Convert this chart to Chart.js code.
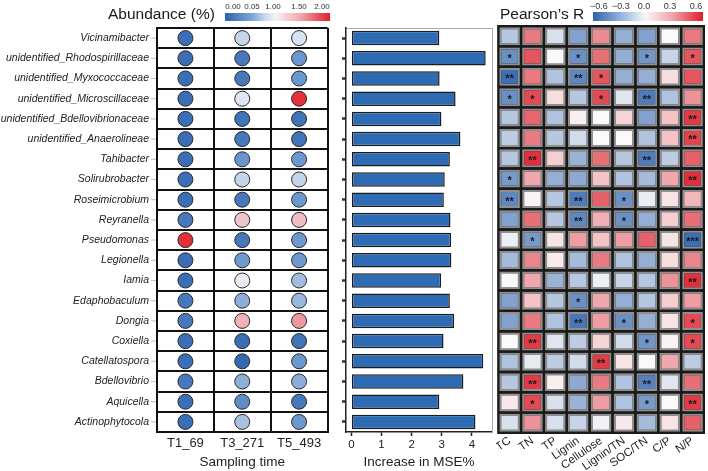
<!DOCTYPE html>
<html><head><meta charset="utf-8">
<script src="https://cdn.jsdelivr.net/npm/chart.js@4.4.1/dist/chart.umd.min.js"></script>
<style>
body{margin:0;width:708px;height:471px;background:#fff;overflow:hidden;font-family:"Liberation Sans",Arial,sans-serif;position:relative}
canvas{position:absolute;top:0}
.t{position:absolute;white-space:nowrap;color:#1a1a1a;line-height:1}
.cb{position:absolute}
.lb{position:absolute;font-size:8px;transform:translateX(-50%);color:#333;line-height:1}
</style></head><body>
<canvas id="c1" width="336" height="471" style="left:0"></canvas>
<canvas id="c2" width="160" height="471" style="left:336px"></canvas>
<canvas id="c3" width="212" height="471" style="left:496px"></canvas>
<div class="t" style="left:108px;top:6px;font-size:15.5px">Abundance (%)</div>
<div class="cb" style="left:225px;top:13px;width:105px;height:8px;background:linear-gradient(to right,#2d62ad 0%,#4f83c2 12%,#7fa6d6 26%,#c9d8ee 38%,#f4f4f8 48%,#f6d2d5 58%,#f1a7ae 72%,#e8606a 86%,#e0202c 100%)"></div>
<div class="lb" style="left:233px;top:3px">0.00</div>
<div class="lb" style="left:252px;top:3px">0.05</div>
<div class="lb" style="left:273px;top:3px">1.00</div>
<div class="lb" style="left:299px;top:3px">1.50</div>
<div class="lb" style="left:322px;top:3px">2.00</div>
<div class="t" style="left:500px;top:6px;font-size:15.5px">Pearson’s R</div>
<div class="cb" style="left:593px;top:12px;width:110px;height:9px;background:linear-gradient(to right,#2d62ad 0%,#9bb8de 27%,#f7f7f7 48%,#f2a4ab 72%,#dd1e2b 100%)"></div>
<div class="lb" style="left:599px;top:2px;font-size:9px">−0.6</div>
<div class="lb" style="left:621px;top:2px;font-size:9px">−0.3</div>
<div class="lb" style="left:644px;top:2px;font-size:9px">0.0</div>
<div class="lb" style="left:670px;top:2px;font-size:9px">0.3</div>
<div class="lb" style="left:696px;top:2px;font-size:9px">0.6</div>
<script>
const taxa = ['Vicinamibacter','unidentified_Rhodospirillaceae','unidentified_Myxococcaceae','unidentified_Microscillaceae','unidentified_Bdellovibrionaceae','unidentified_Anaerolineae','Tahibacter','Solirubrobacter','Roseimicrobium','Reyranella','Pseudomonas','Legionella','Iamia','Edaphobaculum','Dongia','Coxiella','Catellatospora','Bdellovibrio','Aquicella','Actinophytocola'];
const times = ['T1_69','T3_271','T5_493'];
const abT1 = [0.01,0.01,0.01,0.01,0.01,0.01,0.01,0.01,0.01,0.02,1.95,0.01,0.01,0.02,0.02,0.01,0.01,0.02,0.01,0.01];
const abT3 = [0.72,0.02,0.02,0.9,0.015,0.02,0.05,0.7,0.02,1.28,0.02,0.1,1.05,0.3,1.42,0.01,0.005,0.3,0.04,0.5];
const abT5 = [0.85,0.06,0.06,1.95,0.015,0.015,0.07,0.7,0.07,1.35,0.07,0.08,0.45,0.4,1.55,0.015,0.06,0.3,0.02,0.07];
const mse = [2.92,4.46,2.93,3.46,2.99,3.62,3.27,3.10,3.07,3.29,3.31,3.32,2.98,3.27,3.41,3.06,4.38,3.72,2.92,4.12];
const envVars = ['TC','TN','TP','Lignin','Cellulose','Lignin/TN','SOC/TN','C/P','N/P'];
const rTC = [-0.2,-0.42,-0.55,-0.42,-0.2,-0.18,-0.2,-0.38,-0.45,-0.35,-0.04,-0.25,0.0,-0.35,-0.35,0.0,-0.22,-0.2,0.05,-0.1];
const rTN = [0.35,0.45,0.35,0.48,0.4,0.35,0.55,0.22,0.02,0.38,-0.38,0.32,0.22,0.15,0.35,0.52,-0.06,0.52,0.48,0.28];
const rTP = [-0.1,0.0,-0.22,0.08,-0.22,-0.2,0.12,-0.3,-0.2,-0.2,0.06,0.04,-0.28,-0.2,-0.22,-0.08,-0.18,0.03,-0.1,-0.1];
const rLignin = [-0.35,-0.42,-0.45,-0.2,0.03,-0.12,-0.28,-0.32,-0.5,-0.45,0.25,-0.25,-0.2,-0.42,-0.52,-0.18,-0.12,-0.32,-0.28,-0.15];
const rCellulose = [0.3,0.38,0.45,0.48,0.0,0.0,0.38,0.15,0.42,0.2,0.15,0.35,-0.04,0.22,0.25,0.1,0.52,0.35,0.25,-0.03];
const rLigninTN = [-0.3,-0.3,-0.3,-0.08,0.1,0.0,-0.2,-0.22,-0.42,-0.42,0.25,-0.22,-0.15,-0.3,-0.42,-0.12,0.06,-0.22,-0.22,0.05];
const rSOCTN = [-0.35,-0.4,-0.3,-0.5,-0.35,-0.22,-0.5,-0.25,-0.05,-0.3,0.42,-0.3,-0.2,-0.2,-0.3,-0.4,0.0,-0.48,-0.38,-0.25];
const rCP = [0.0,-0.15,0.08,-0.22,0.15,0.15,-0.18,0.22,0.06,0.12,0.06,0.08,0.28,0.12,0.06,0.02,0.22,-0.08,0.0,0.06];
const rNP = [0.35,0.45,0.45,0.28,0.52,0.5,0.42,0.55,0.18,0.38,-0.55,0.32,0.55,0.25,0.48,0.48,-0.18,0.38,0.52,0.42];
const sTC = ['','*','**','*','','','','*','**','','','','','','','','','','',''];
const sTN = ['','','','*','','','**','','','','*','','','','','**','','**','*',''];
const sTP = ['','','','','','','','','','','','','','','','','','','',''];
const sLignin = ['','*','**','','','','','','**','**','','','','*','**','','','','',''];
const sCellulose = ['','','*','*','','','','','','','','','','','','','**','','',''];
const sLigninTN = ['','','','','','','','','*','*','','','','','*','','','','',''];
const sSOCTN = ['','*','','**','','','**','','','','','','','','','*','','**','*',''];
const sCP = ['','','','','','','','','','','','','','','','','','','',''];
const sNP = ['','*','','','**','**','','**','','','***','','**','','*','*','','','**',''];

const abund = [abT1, abT3, abT5];
const rCols = [rTC, rTN, rTP, rLignin, rCellulose, rLigninTN, rSOCTN, rCP, rNP];
const sCols = [sTC, sTN, sTP, sLignin, sCellulose, sLigninTN, sSOCTN, sCP, sNP];

function mix(a, b, t) { return 'rgb(' + a.map((v, i) => Math.round(v + (b[i] - v) * t)).join(',') + ')'; }
const BLUE = [45, 98, 173], WHITE = [250, 250, 250], RED = [220, 30, 42];
function rColor(v) { const t = Math.max(-1, Math.min(1, v / 0.6)); return t < 0 ? mix(WHITE, BLUE, -t) : mix(WHITE, RED, t); }
const abStops = [0, 0.05, 1.0, 1.5, 2.0];
const abColors = [[47,100,175],[105,150,205],[238,240,248],[242,165,172],[225,35,45]];
function abColor(v) {
  for (let i = 0; i < abStops.length - 1; i++) {
    if (v <= abStops[i + 1]) return mix(abColors[i], abColors[i + 1], (v - abStops[i]) / (abStops[i + 1] - abStops[i]));
  }
  return mix(abColors[3], abColors[4], 1);
}
Chart.defaults.font.family = '"Liberation Sans", Arial, sans-serif';
Chart.defaults.color = '#222';
Chart.defaults.animation = false;

// Panel 1: bubble grid
const bubbleData = [], bubbleCols = [];
times.forEach((tm, j) => taxa.forEach((tx, i) => { bubbleData.push({x: tm, y: tx}); bubbleCols.push(abColor(abund[j][i])); }));
const labelTicks = {
  id: 'labelTicks',
  afterDraw(chart) {
    const ys = chart.scales.y, ctx = chart.ctx;
    ctx.save(); ctx.strokeStyle = '#c8c8c8'; ctx.lineWidth = 1.2;
    taxa.forEach((t, i) => { const y = ys.getPixelForValue(i); ctx.beginPath(); ctx.moveTo(ys.right - 6, y); ctx.lineTo(ys.right - 1, y); ctx.stroke(); });
    ctx.restore();
  }
};
new Chart(document.getElementById('c1'), {
  type: 'scatter',
  data: { datasets: [{ data: bubbleData, pointRadius: 7.5, pointHoverRadius: 7.5, pointBackgroundColor: bubbleCols, pointBorderColor: '#2a2a2a', pointBorderWidth: 1 }] },
  options: {
    responsive: false, devicePixelRatio: 1,
    layout: { padding: { top: 28, right: 3, left: 0, bottom: 0 } },
    plugins: { legend: { display: false }, tooltip: { enabled: false } },
    scales: {
      x: { type: 'category', labels: times, offset: true,
           grid: { offset: true, color: '#111', lineWidth: 2, drawTicks: false },
           border: { color: '#111', width: 2 },
           ticks: { font: { size: 13 }, color: '#222', padding: 4 },
           title: { display: true, text: 'Sampling time', font: { size: 13.5 }, color: '#222', padding: { top: 0, bottom: 1 } },
           afterFit(s) { s.height = 39; } },
      y: { type: 'category', labels: taxa, offset: true,
           grid: { offset: true, color: '#111', lineWidth: 2, drawTicks: false },
           border: { color: '#111', width: 2 },
           ticks: { font: { size: 10.5, style: 'italic' }, color: '#222', padding: 8, autoSkip: false },
           afterFit(s) { s.width = 157; } }
    }
  },
  plugins: [labelTicks]
});

// Panel 2: bar chart
new Chart(document.getElementById('c2'), {
  type: 'bar',
  data: { labels: taxa, datasets: [{ data: mse, backgroundColor: '#2e6bb5', borderColor: '#1c1c1c', borderWidth: 1.5, borderSkipped: false, barPercentage: 0.72, categoryPercentage: 1 }] },
  options: {
    indexAxis: 'y', responsive: false, devicePixelRatio: 1,
    layout: { padding: { top: 28, right: 4, left: 0, bottom: 0 } },
    plugins: { legend: { display: false }, tooltip: { enabled: false } },
    scales: {
      x: { type: 'linear', min: -0.18, max: 4.67,
           ticks: { stepSize: 1, includeBounds: false, font: { size: 11.5 }, color: '#222', padding: 2 },
           grid: { drawOnChartArea: false, drawTicks: true, tickLength: 4, tickColor: '#222', tickWidth: 1.5 },
           border: { color: '#222', width: 1.5 },
           title: { display: true, text: 'Increase in MSE%', font: { size: 13.5 }, color: '#222', padding: { top: 0, bottom: 1 } },
           afterFit(s) { s.height = 39; } },
      xt: { type: 'linear', position: 'top', grid: { display: false, drawTicks: false }, ticks: { display: false }, border: { color: '#aaa', width: 1 }, afterFit(s) { s.height = 0; } },
      y: { type: 'category', offset: true,
           grid: { drawOnChartArea: false, offset: false, drawTicks: true, tickLength: 4, tickColor: '#333', tickWidth: 2.5 },
           border: { color: '#222', width: 1.5 },
           ticks: { display: false },
           afterFit(s) { s.width = 10; } },
      yr: { type: 'linear', position: 'right', grid: { display: false, drawTicks: false }, ticks: { display: false }, border: { color: '#aaa', width: 1 }, afterFit(s) { s.width = 0; } }
    }
  }
});

// Panel 3: heatmap
const heatBg = {
  id: 'heatBg',
  beforeDatasetsDraw(chart) {
    const a = chart.chartArea, ctx = chart.ctx;
    ctx.save(); ctx.fillStyle = '#1a1a1a'; ctx.fillRect(a.left - 1, a.top - 1, a.right - a.left + 2, a.bottom - a.top + 2); ctx.restore();
  },
  afterDatasetsDraw(chart) {
    const ctx = chart.ctx;
    ctx.save(); ctx.fillStyle = '#1a1a1a'; ctx.font = 'bold 11px "Liberation Sans", Arial'; ctx.textAlign = 'center'; ctx.textBaseline = 'middle';
    chart.data.datasets.forEach((ds, c) => {
      chart.getDatasetMeta(c).data.forEach((el, i) => {
        const s = sCols[c][i]; if (!s) return;
        const p = el.getProps(['x', 'base', 'y'], true);
        ctx.fillText(s, (p.x + p.base) / 2, p.y + 2.5);
      });
    });
    ctx.restore();
  }
};
new Chart(document.getElementById('c3'), {
  type: 'bar',
  data: { labels: taxa, datasets: envVars.map((v, c) => ({
    label: v, data: taxa.map(() => [c - 0.45, c + 0.45]),
    backgroundColor: rCols[c].map(rColor), borderColor: '#8f8f8f', borderWidth: 2, borderSkipped: false,
    grouped: false, barPercentage: 0.88, categoryPercentage: 1 })) },
  options: {
    indexAxis: 'y', responsive: false, devicePixelRatio: 1,
    layout: { padding: { top: 26, right: 4, left: 1, bottom: 0 } },
    plugins: { legend: { display: false }, tooltip: { enabled: false } },
    scales: {
      x: { type: 'linear', min: -0.5, max: 8.5,
           afterBuildTicks(s) { s.ticks = envVars.map((v, i) => ({ value: i })); },
           ticks: { autoSkip: false, minRotation: 35, maxRotation: 35, font: { size: 11.5 }, color: '#222', padding: 1, callback: (v) => envVars[v] },
           grid: { display: false, drawTicks: false },
           border: { display: false },
           afterFit(s) { s.height = 38; } },
      y: { type: 'category', display: false, offset: true }
    }
  },
  plugins: [heatBg]
});
</script>
</body></html>
